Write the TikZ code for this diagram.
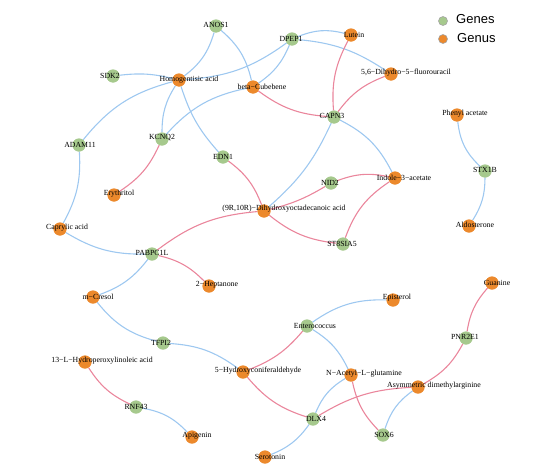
\documentclass[tikz,border=0pt]{standalone}
\usepackage{fontspec}
\setmainfont{Liberation Serif}
\newfontfamily\legendfont{Liberation Sans}
\definecolor{geneGreen}{RGB}{166,201,141}
\definecolor{genusOrange}{RGB}{236,137,44}
\definecolor{blueEdge}{RGB}{158,200,240}
\definecolor{pinkEdge}{RGB}{234,134,156}
\tikzset{
  gene/.style={circle,fill=geneGreen,minimum size=13pt,inner sep=0pt},
  genus/.style={circle,fill=genusOrange,minimum size=13pt,inner sep=0pt},
  lbl/.style={font=\fontsize{7.8}{8}\selectfont,inner sep=0pt,text=black},
  bl/.style={draw=blueEdge,line width=1.1pt},
  pk/.style={draw=pinkEdge,line width=1.1pt},
  legdot/.style={circle,draw=gray!70,line width=0.6pt,minimum size=9pt,inner sep=0pt},
  legtxt/.style={font=\legendfont\fontsize{13}{14}\selectfont,inner sep=0pt,anchor=west}
}
\begin{document}
\begin{tikzpicture}[x=1pt,y=1pt]
\useasboundingbox (0,0) rectangle (554,-474);
% genes
\node[gene] (anos) at (216,-26) {};
\node[gene] (dpep) at (292,-39) {};
\node[gene] (sdk) at (113,-76) {};
\node[gene] (adam) at (79,-145) {};
\node[gene] (kcnq) at (162,-139) {};
\node[gene] (edn) at (223,-157) {};
\node[gene] (capn) at (334,-117) {};
\node[gene] (nid) at (331,-183) {};
\node[gene] (st8) at (343,-244) {};
\node[gene] (stx) at (485,-171) {};
\node[gene] (pabp) at (152,-254) {};
\node[gene] (tfpi) at (163,-343) {};
\node[gene] (rnf) at (136,-407) {};
\node[gene] (ent) at (307,-326) {};
\node[gene] (dlx) at (313,-419) {};
\node[gene] (sox) at (383,-435) {};
\node[gene] (pnr) at (466,-338) {};
% genus
\node[genus] (homo) at (179,-80) {};
\node[genus] (beta) at (253,-87) {};
\node[genus] (lut) at (351,-35) {};
\node[genus] (dihy) at (391,-74) {};
\node[genus] (phen) at (457,-115) {};
\node[genus] (ind) at (395,-178) {};
\node[genus] (dhoa) at (264,-211) {};
\node[genus] (ery) at (114,-195) {};
\node[genus] (cap) at (60,-229) {};
\node[genus] (hep) at (209,-286) {};
\node[genus] (cres) at (93,-297) {};
\node[genus] (ald) at (469,-226) {};
\node[genus] (gua) at (492,-283) {};
\node[genus] (epi) at (393,-300) {};
\node[genus] (hpl) at (85,-362) {};
\node[genus] (hca) at (243,-372) {};
\node[genus] (nag) at (351,-375) {};
\node[genus] (adma) at (418,-387) {};
\node[genus] (api) at (192,-437) {};
\node[genus] (ser) at (265,-457) {};
% blue edges
\path[bl] (anos) to[bend left=18] (homo);
\path[bl] (anos) to[bend left=18] (beta);
\path[bl] (sdk) to[bend left=10] (homo);
\path[bl] (homo) to[bend right=16] (dpep);
\path[bl] (homo) to[bend right=18] (adam);
\path[bl] (homo) to[bend right=16] (kcnq);
\path[bl] (homo) to[bend right=12] (edn);
\path[bl] (beta) to[bend right=18] (kcnq);
\path[bl] (beta) to[bend right=16] (dpep);
\path[bl] (dpep) to[bend left=18] (lut);
\path[bl] (dpep) to[bend left=14] (dihy);
\path[bl] (adam) to[bend left=16] (cap);
\path[bl] (cap) to[bend right=16] (pabp);
\path[bl] (pabp) to[bend left=16] (cres);
\path[bl] (cres) to[bend right=18] (tfpi);
\path[bl] (tfpi) to[bend left=16] (hca);
\path[bl] (rnf) to[bend left=18] (api);
\path[bl] (ent) to[bend left=18] (epi);
\path[bl] (ent) to[bend left=16] (nag);
\path[bl] (nag) to[bend right=18] (dlx);
\path[bl] (dlx) to[bend left=16] (ser);
\path[bl] (sox) to[bend left=18] (adma);
\path[bl] (phen) to[bend right=20] (stx);
\path[bl] (stx) to[bend left=16] (ald);
\path[bl] (capn) to[bend left=12] (dhoa);
\path[bl] (capn) to[bend left=18] (ind);
% pink edges
\path[pk] (kcnq) to[bend left=16] (ery);
\path[pk] (edn) to[bend left=16] (dhoa);
\path[pk] (beta) to[bend right=16] (capn);
\path[pk] (lut) to[bend right=16] (capn);
\path[pk] (dihy) to[bend right=16] (capn);
\path[pk] (dhoa) to[bend right=8] (nid);
\path[pk] (nid) to[bend left=16] (ind);
\path[pk] (dhoa) to[bend right=16] (st8);
\path[pk] (st8) to[bend left=18] (ind);
\path[pk] (dhoa) to[bend right=16] (pabp);
\path[pk] (pabp) to[bend left=16] (hep);
\path[pk] (hpl) to[bend right=16] (rnf);
\path[pk] (hca) to[bend right=14] (ent);
\path[pk] (hca) to[bend right=16] (dlx);
\path[pk] (dlx) to[bend left=14] (adma);
\path[pk] (nag) to[bend right=16] (sox);
\path[pk] (adma) to[bend right=16] (pnr);
\path[pk] (pnr) to[bend left=16] (gua);
% node discs drawn over the edges
\foreach \x/\y in {216/26,292/39,113/76,79/145,162/139,223/157,334/117,331/183,343/244,485/171,152/254,163/343,136/407,307/326,313/419,383/435,466/338}
  \fill[geneGreen] (\x,-\y) circle (6.5pt);
\foreach \x/\y in {179/80,253/87,351/35,391/74,457/115,395/178,264/211,114/195,60/229,209/286,93/297,469/226,492/283,393/300,85/362,243/372,351/375,418/387,192/437,265/457}
  \fill[genusOrange] (\x,-\y) circle (6.5pt);
% labels
\node[lbl] (l-anos) at (216,-25) {ANOS1};
\node[lbl] (l-dpep) at (291,-39) {DPEP1};
\node[lbl] (l-sdk) at (110,-76) {SDK2};
\node[lbl] (l-adam) at (80,-145) {ADAM11};
\node[lbl] (l-kcnq) at (162,-138) {KCNQ2};
\node[lbl] (l-edn) at (223,-157) {EDN1};
\node[lbl] (l-capn) at (332,-116) {CAPN3};
\node[lbl] (l-nid) at (330,-183) {NID2};
\node[lbl] (l-st8) at (342,-244) {ST8SIA5};
\node[lbl] (l-stx) at (485,-170) {STX1B};
\node[lbl] (l-pabp) at (152,-253) {PABPC1L};
\node[lbl] (l-tfpi) at (161,-343) {TFPI2};
\node[lbl] (l-rnf) at (136,-407) {RNF43};
\node[lbl] (l-ent) at (315,-326) {Enterococcus};
\node[lbl] (l-dlx) at (316,-419) {DLX4};
\node[lbl] (l-sox) at (384,-435) {SOX6};
\node[lbl] (l-pnr) at (465,-337) {PNR2E1};
\node[lbl] (l-homo) at (189,-80) {Homogentisic acid};
\node[lbl] (l-beta) at (262,-87) {beta−Cubebene};
\node[lbl] (l-lut) at (354,-35) {Lutein};
\node[lbl] (l-dihy) at (406,-73) {5,6−Dihydro−5−fluorouracil};
\node[lbl] (l-phen) at (465,-114) {Phenyl acetate};
\node[lbl] (l-ind) at (404,-178) {Indole−3−acetate};
\node[lbl] (l-dhoa) at (284,-209) {(9R,10R)−Dihydroxyoctadecanoic acid};
\node[lbl] (l-ery) at (119,-194) {Erythritol};
\node[lbl] (l-cap) at (67,-228) {Caprylic acid};
\node[lbl] (l-hep) at (217,-285) {2−Heptanone};
\node[lbl] (l-cres) at (98,-297) {m−Cresol};
\node[lbl] (l-ald) at (475,-225) {Aldosterone};
\node[lbl] (l-gua) at (497,-283) {Guanine};
\node[lbl] (l-epi) at (397,-298) {Episterol};
\node[lbl] (l-hpl) at (102,-361) {13−L−Hydroperoxylinoleic acid};
\node[lbl] (l-hca) at (258,-371) {5−Hydroxyconiferaldehyde};
\node[lbl] (l-nag) at (364,-374) {N−Acetyl−L−glutamine};
\node[lbl] (l-adma) at (434,-386) {Asymmetric dimethylarginine};
\node[lbl] (l-api) at (197,-436) {Apigenin};
\node[lbl] (l-ser) at (270,-457) {Serotonin};
% legend
\node[legdot,fill=geneGreen] (leg-g) at (443,-21) {};
\node[legdot,fill=genusOrange] (leg-o) at (443,-39) {};
\node[legtxt] (leg-gt) at (456,-19) {Genes};
\node[legtxt] (leg-ot) at (457,-38.5) {Genus};
\end{tikzpicture}
\end{document}
